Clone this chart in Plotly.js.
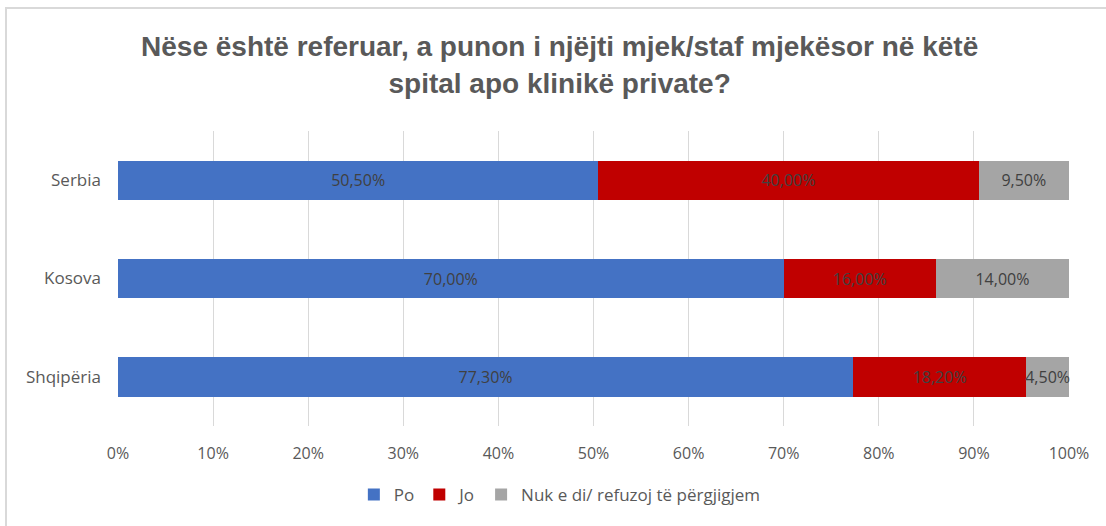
<!DOCTYPE html>
<html>
<head>
<meta charset="utf-8">
<script src="https://cdn.plot.ly/plotly-3.0.1.min.js"></script>
<style>
html,body{margin:0;padding:0;background:#fff;}
#wrap{position:relative;width:1106px;height:526px;overflow:hidden;}
#chart{position:absolute;left:0;top:0;width:1106px;height:526px;}
#bl{position:absolute;left:5px;top:7px;width:2px;height:519px;background:#d9d9d9;}
#bt{position:absolute;left:5px;top:7px;width:1101px;height:2px;background:#d9d9d9;}
</style>
</head>
<body>
<div id="wrap"><div id="chart"></div><div id="bl"></div><div id="bt"></div></div>
<script>
const categories = ["Shqipëria", "Kosova", "Serbia"];
const seriesNames = ["Po", "Jo", "Nuk e di/ refuzoj të përgjigjem"];
const po = [77.3, 70.0, 50.5];
const jo = [18.2, 16.0, 40.0];
const nuk = [4.5, 14.0, 9.5];
const colors = ["#4472c4", "#c00000", "#a5a5a5"];
const xTickVals = [0,10,20,30,40,50,60,70,80,90,100];
const xTickText = xTickVals.map(v => v + "%");

function fmt(v){ return v.toFixed(2).replace(".", ",") + "%"; }

const FONT = "Open Sans, Noto Sans, sans-serif";
const seriesVals = [po, jo, nuk];
const traces = seriesVals.map((vals, i) => ({
  type: "bar",
  orientation: "h",
  name: seriesNames[i],
  y: categories,
  x: vals,
  marker: {color: colors[i], line: {width: 0}},
  text: vals.map(fmt),
  textposition: "inside",
  insidetextanchor: "middle",
  textangle: 0,
  constraintext: "none",
  cliponaxis: false,
  textfont: {family: FONT, size: 16, color: "#404040"},
  hoverinfo: "skip"
}));

const layout = {
  width: 1106, height: 526,
  margin: {l: 118, r: 37, t: 131, b: 100},
  paper_bgcolor: "rgba(0,0,0,0)",
  plot_bgcolor: "rgba(0,0,0,0)",
  barmode: "stack",
  bargap: 0.6,
  title: {
    text: "Nëse është referuar, a punon i njëjti mjek/staf mjekësor në këtë<br>spital apo klinikë private?",
    font: {family: "Liberation Sans, Arial, sans-serif", size: 28, color: "#595959", weight: "bold"},
    x: 0.506, xanchor: "center", yref: "container", y: 0.893, yanchor: "top"
  },
  xaxis: {
    range: [0, 100],
    tickvals: xTickVals,
    ticktext: xTickText,
    showgrid: true, gridcolor: "#d9d9d9", gridwidth: 1,
    zeroline: false, showline: false,
    ticks: "", ticklabelstandoff: 16,
    tickfont: {family: FONT, size: 16, color: "#595959"},
    fixedrange: true
  },
  yaxis: {
    showgrid: false, zeroline: false, showline: false,
    ticks: "", ticklabelstandoff: 16,
    tickfont: {family: FONT, size: 17, color: "#595959"},
    fixedrange: true
  },
  legend: {
    orientation: "h", x: 0.248, xanchor: "left", y: -0.234, yanchor: "middle",
    font: {family: FONT, size: 17, color: "#595959"},
    itemwidth: 30, traceorder: "normal"
  },
  showlegend: true
};

Plotly.newPlot("chart", traces, layout, {displayModeBar: false, staticPlot: true});
</script>
</body>
</html>
